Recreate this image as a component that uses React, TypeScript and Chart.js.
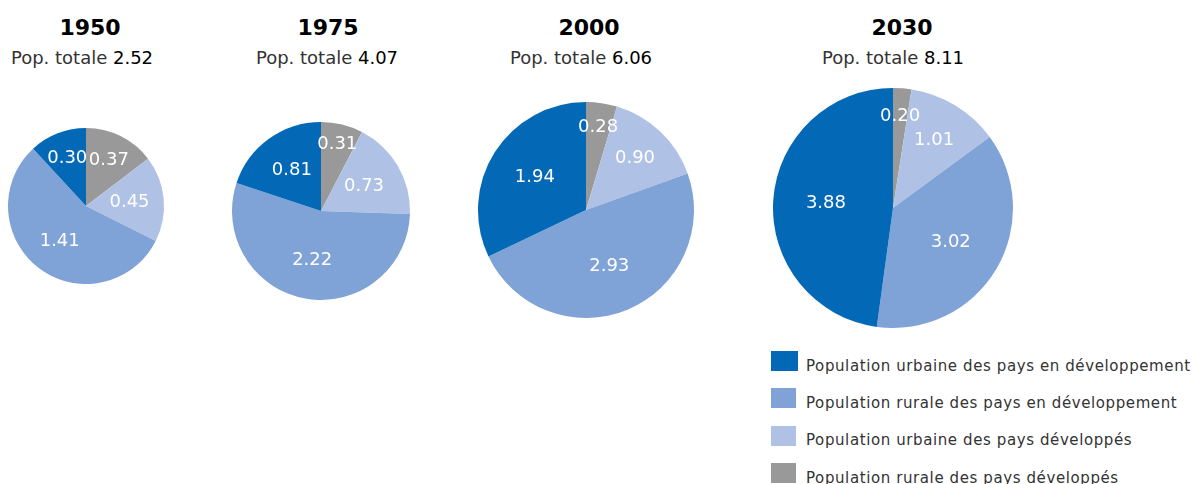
import React, { useEffect, useRef } from "react";
import { Chart, registerables } from "chart.js";
Chart.register(...registerables);

// ---- data ----
const years = ["1950", "1975", "2000", "2030"];
const totals = [2.52, 4.07, 6.06, 8.11];
const categories = [
  "Population urbaine des pays en développement",
  "Population rurale des pays en développement",
  "Population urbaine des pays développés",
  "Population rurale des pays développés",
];
const urbanDeveloping = [0.3, 0.81, 1.94, 3.88];
const ruralDeveloping = [1.41, 2.22, 2.93, 3.02];
const urbanDeveloped = [0.45, 0.73, 0.9, 1.01];
const ruralDeveloped = [0.37, 0.31, 0.28, 0.2];
const colors = ["#0369b7", "#7fa3d6", "#afc1e5", "#999999"];

// ---- layout ----
const pieCenterX = [86, 321, 586, 893];
const pieCenterY = [206, 211, 210, 208];
const pieRadius = [78, 89, 108, 120];
const titleCenterX = [90, 328, 589, 902];
const subCenterX = [82, 327, 581, 893];
const FONT = "'DejaVu Sans', sans-serif";

const labelPlugin = {
  id: "sliceLabels",
  afterDatasetsDraw(chart: any) {
    const ctx = chart.ctx;
    const meta = chart.getDatasetMeta(0);
    const data = chart.data.datasets[0].data as number[];
    ctx.save();
    ctx.fillStyle = "#ffffff";
    ctx.font = "18px " + FONT;
    ctx.textAlign = "center";
    ctx.textBaseline = "middle";
    meta.data.forEach((arc: any, i: number) => {
      const p = arc.getProps(["x", "y", "startAngle", "endAngle", "outerRadius"], true);
      const span = ((p.endAngle - p.startAngle) * 180) / Math.PI;
      const frac = span < 30 ? 0.77 : span < 60 ? 0.66 : 0.56;
      const mid = (p.startAngle + p.endAngle) / 2;
      ctx.fillText(
        data[i].toFixed(2),
        p.x + Math.cos(mid) * p.outerRadius * frac,
        p.y + Math.sin(mid) * p.outerRadius * frac
      );
    });
    ctx.restore();
  },
};

function Pie({ idx }: { idx: number }) {
  const ref = useRef<HTMLCanvasElement>(null);
  const r = pieRadius[idx];
  const size = r * 2 + 8;
  useEffect(() => {
    const series = [urbanDeveloping, ruralDeveloping, urbanDeveloped, ruralDeveloped];
    const order = [3, 2, 1, 0]; // clockwise from top
    const chart = new Chart(ref.current as HTMLCanvasElement, {
      type: "pie",
      data: {
        labels: order.map((i) => categories[i]),
        datasets: [
          {
            data: order.map((i) => series[i][idx]),
            backgroundColor: order.map((i) => colors[i]),
            borderWidth: 0,
            hoverOffset: 0,
          },
        ],
      },
      options: {
        responsive: false,
        maintainAspectRatio: false,
        animation: false,
        radius: r,
        layout: { padding: 0 },
        events: [],
        plugins: { legend: { display: false }, tooltip: { enabled: false } },
      } as any,
      plugins: [labelPlugin],
    });
    return () => chart.destroy();
  }, [idx, r]);
  return (
    <canvas
      ref={ref}
      width={size}
      height={size}
      style={{
        position: "absolute",
        left: pieCenterX[idx] - size / 2,
        top: pieCenterY[idx] - size / 2,
        width: size,
        height: size,
      }}
    />
  );
}

export default function App() {
  return (
    <div
      style={{
        position: "absolute",
        left: 0,
        top: 0,
        width: 1192,
        height: 484,
        overflow: "hidden",
        background: "#ffffff",
        fontFamily: FONT,
      }}
    >
      {years.map((y, i) => (
        <React.Fragment key={y}>
          <div
            style={{
              position: "absolute",
              left: titleCenterX[i] - 100,
              width: 200,
              top: 17.4,
              textAlign: "center",
              fontSize: 22,
              lineHeight: "22px",
              fontWeight: "bold",
              color: "#000",
            }}
          >
            {y}
          </div>
          <div
            style={{
              position: "absolute",
              left: subCenterX[i] - 120,
              width: 240,
              top: 48.8,
              textAlign: "center",
              fontSize: 18,
              lineHeight: "18px",
              color: "#333",
              whiteSpace: "nowrap",
            }}
          >
            Pop. totale <span style={{ color: "#000" }}>{totals[i].toFixed(2)}</span>
          </div>
          <Pie idx={i} />
        </React.Fragment>
      ))}
      {categories.map((c, i) => {
        const top = 351 + i * 37.3;
        return (
          <React.Fragment key={c}>
            <div
              style={{
                position: "absolute",
                left: 771,
                top,
                width: i === 0 ? 27 : 25,
                height: 20,
                background: colors[i],
              }}
            />
            <div
              style={{
                position: "absolute",
                left: 806,
                top: top + 4.8,
                fontSize: 15,
                lineHeight: "20px",
                letterSpacing: "0.6px",
                color: "#333",
                whiteSpace: "nowrap",
              }}
            >
              {c}
            </div>
          </React.Fragment>
        );
      })}
    </div>
  );
}
